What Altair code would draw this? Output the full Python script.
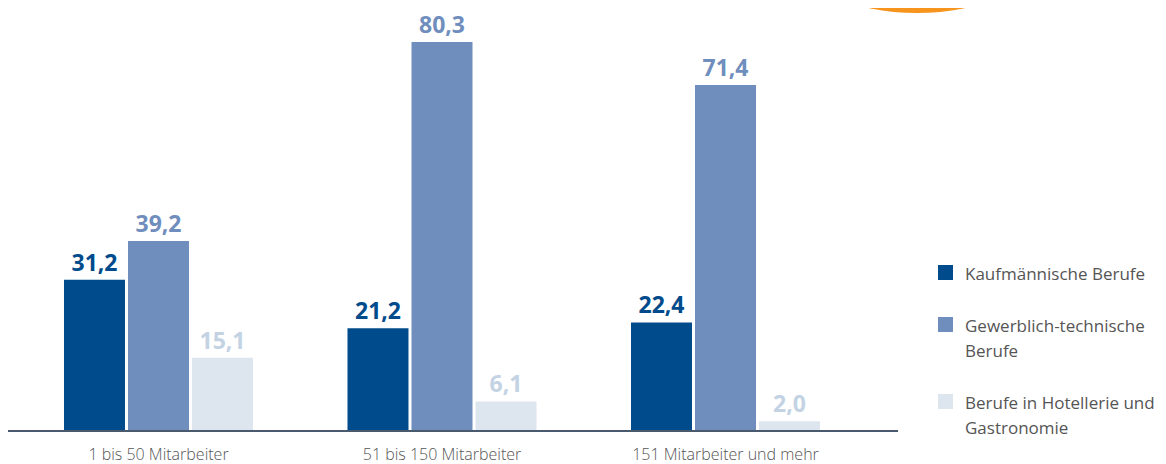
import altair as alt
import pandas as pd

categories = ["1 bis 50 Mitarbeiter", "51 bis 150 Mitarbeiter", "151 Mitarbeiter und mehr"]
series = ["Kaufmännische Berufe", "Gewerblich-technische Berufe", "Berufe in Hotellerie und Gastronomie"]
kaufm = [31.2, 21.2, 22.4]
gewerb = [39.2, 80.3, 71.4]
hotel = [15.1, 6.1, 2.0]

bar_colors = ["#004b8b", "#6f8ebd", "#dde6ef"]
label_colors = ["#004b8b", "#6f8ebd", "#c3d3e4"]

rows = []
for s, vals in zip(series, [kaufm, gewerb, hotel]):
    for c, v in zip(categories, vals):
        rows.append({"cat": c, "serie": s, "value": v,
                     "label": f"{v:.1f}".replace(".", ",")})
df = pd.DataFrame(rows)

W, H = 1150, 423
x = alt.X("cat:N", sort=categories, title=None,
          scale=alt.Scale(range=[8.75, 859.25], paddingInner=0, paddingOuter=0),
          axis=alt.Axis(domain=False, ticks=False, labelAngle=0, labelPadding=21,
                        labelFontSize=16, labelColor="#555555", labelFont="Open Sans",
                        labelFontWeight=300, labelBaseline="alphabetic", labelLimit=300))
xo = alt.XOffset("serie:N", sort=series,
                 scale=alt.Scale(paddingInner=0.047, paddingOuter=0.738))
y = alt.Y("value:Q", title=None, scale=alt.Scale(domain=[0, 87.3], nice=False),
          axis=None)

bars = alt.Chart(df).mark_bar().encode(
    x=x, xOffset=xo, y=y,
    color=alt.Color("serie:N", sort=series, title=None,
                    scale=alt.Scale(domain=series, range=bar_colors),
                    legend=alt.Legend(orient="none", legendX=929, legendY=256,
                                      symbolType="square", symbolSize=225,
                                      symbolStrokeWidth=0, symbolOpacity=1,
                                      labelFontSize=17, labelColor="#555555",
                                      labelFont="Open Sans", labelOffset=11,
                                      labelBaseline="alphabetic",
                                      labelLimit=260, rowPadding=33,
                                      labelExpr="datum.label == 'Gewerblich-technische Berufe' ? ['Gewerblich-technische', 'Berufe'] : datum.label == 'Berufe in Hotellerie und Gastronomie' ? ['Berufe in Hotellerie und', 'Gastronomie'] : datum.label")),
)

texts = alt.Chart(df).mark_text(baseline="alphabetic", dy=-9, fontSize=23,
                                fontWeight="bold", font="Open Sans").encode(
    x=x, xOffset=xo, y=y, text="label:N",
    color=alt.Color("serie:N", sort=series,
                    scale=alt.Scale(domain=series, range=label_colors), legend=None),
)

baseline = alt.Chart(pd.DataFrame({"v": [0]})).mark_rule(
    color="#4a5a6e", strokeWidth=2).encode(
    y=alt.Y("v:Q", scale=alt.Scale(domain=[0, 87.3], nice=False), axis=None),
    x=alt.value(0), x2=alt.value(890))

orange = alt.Chart(pd.DataFrame({"v": [0]})).mark_arc(
    color="#f7941d", radius=237, theta=0, theta2=6.2832).encode(
    x=alt.value(909), y=alt.value(-232))

chart = alt.layer(orange, bars, baseline, texts).resolve_scale(color="independent").properties(
    width=W, height=H,
    autosize=alt.AutoSizeParams(type="none"),
    padding={"left": 0, "top": 0, "right": 0, "bottom": 33},
).configure(
    style={"guide-label": {"dy": 7, "lineHeight": 25}}
).configure_view(stroke=None)

chart.save("out.html", embed_options={"renderer": "svg", "actions": False})
